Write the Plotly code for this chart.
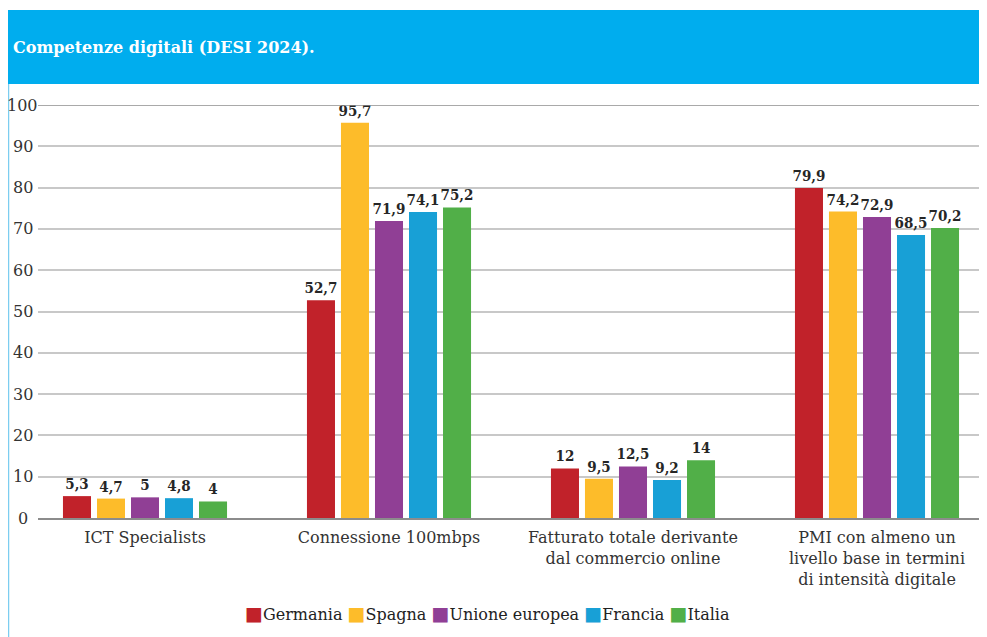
import plotly.graph_objects as go

categories = ["ICT Specialists", "Connessione 100mbps",
              "Fatturato totale derivante<br>dal commercio online",
              "PMI con almeno un<br>livello base in termini<br>di intensità digitale"]
series_names = ["Germania", "Spagna", "Unione europea", "Francia", "Italia"]
germania = [5.3, 52.7, 12, 79.9]
spagna = [4.7, 95.7, 9.5, 74.2]
ue = [5, 71.9, 12.5, 72.9]
francia = [4.8, 74.1, 9.2, 68.5]
italia = [4, 75.2, 14, 70.2]
colors = ["#C1222A", "#FDBC2A", "#903F95", "#18A0D6", "#51AF48"]
y_ticks = [0, 10, 20, 30, 40, 50, 60, 70, 80, 90, 100]
title_text = "Competenze digitali (DESI 2024)."

# page body has an 8px margin: positions below are in viewport pixels, converted
OFF = 8
W, H = 987, 637
L, R, T, B = 38 - OFF, 0, 105 - OFF, H - (518 - OFF)
pw, ph = W - L - R, H - T - B
def px(x):
    return (x - OFF - L) / pw
def py(y):
    return (H - B - (y - OFF)) / ph

# category centre pixels: 145 + 244*i (viewport)
x_lo = (38 - 145) / 244
x_hi = (W + OFF - 145) / 244

fig = go.Figure()
for name, vals, col in zip(series_names, [germania, spagna, ue, francia, italia], colors):
    fig.add_trace(go.Bar(
        name=name, x=categories, y=vals, marker=dict(color=col, line=dict(width=0)),
        texttemplate="%{y}", textposition="outside", cliponaxis=False,
        constraintext="none",
        textfont=dict(family="DejaVu Serif Condensed, serif",
                      size=15, color="#262626", weight="bold"),
    ))

legend_html = " ".join(
    f"<span style='color:{c};font-size:19px'>■</span>{n}" for n, c in zip(series_names, colors)
)

# y tick labels, centred in the left gutter
tick_annotations = [
    dict(text=str(v), xref="paper", yref="y", x=px(22.5), y=v, xanchor="center",
         yanchor="middle", showarrow=False,
         font=dict(family="DejaVu Serif, serif", size=16, color="#333333"))
    for v in y_ticks
]

fig.update_layout(
    width=W, height=H, margin=dict(l=L, r=R, t=T, b=B),
    paper_bgcolor="white", plot_bgcolor="white",
    separators=",.",
    barmode="group", bargap=0.303, bargroupgap=0.176,
    font=dict(family="DejaVu Serif, serif", size=16, color="#333333"),
    showlegend=False,
    xaxis=dict(showgrid=False, showline=True, linecolor="#8c8c8c", linewidth=1.5,
               range=[x_lo, x_hi], ticks="", ticklabelstandoff=4,
               tickfont=dict(size=16, color="#333333")),
    yaxis=dict(range=[0, 100], tickvals=y_ticks, showgrid=True, gridcolor="#c8c8c8",
               gridwidth=1.5, zeroline=False, showline=False, ticks="",
               showticklabels=False),
    shapes=[
        dict(type="rect", xref="paper", yref="paper", x0=px(8), x1=px(995), y0=py(84), y1=py(10),
             fillcolor="#00ADEE", line=dict(width=0), layer="above"),
        dict(type="line", xref="paper", yref="paper", x0=px(8.5), x1=px(8.5), y0=py(84), y1=py(645),
             line=dict(color="#7CCDF0", width=1.5)),
        dict(type="line", xref="paper", yref="y", x0=0, x1=1, y0=100, y1=100,
             line=dict(color="#8c8c8c", width=1.5)),
    ],
    annotations=[
        dict(text="<b>" + title_text + "</b>", xref="paper", yref="paper", x=px(11), y=py(47),
             xanchor="left", yanchor="middle", showarrow=False,
             font=dict(family="DejaVu Serif, serif", size=16, color="white")),
        dict(text=legend_html, xref="paper", yref="paper", x=px(487), y=py(613),
             xanchor="center", yanchor="middle", showarrow=False,
             font=dict(family="DejaVu Serif, serif", size=16, color="#222222")),
    ] + tick_annotations,
)

fig.write_html("out.html")
